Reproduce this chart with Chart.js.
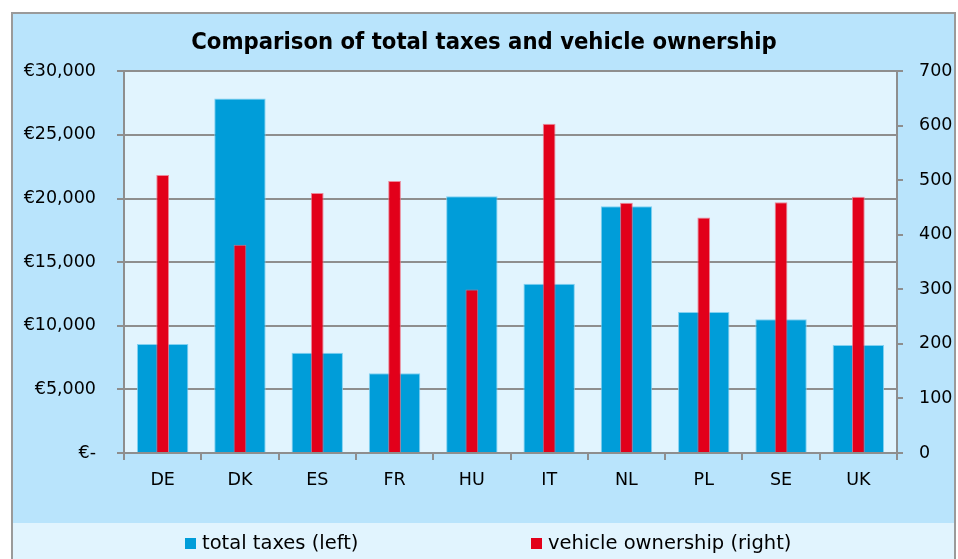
<!DOCTYPE html>
<html>
<head>
<meta charset="utf-8">
<script src="https://cdn.jsdelivr.net/npm/chart.js@4.4.1/dist/chart.umd.min.js"></script>
<style>
  html, body { margin: 0; padding: 0; background: #ffffff; }
  #wrap { position: relative; width: 958px; height: 559px; }
</style>
</head>
<body>
<div id="wrap"><canvas id="c" width="958" height="559"></canvas></div>
<script>
const categories = ['DE', 'DK', 'ES', 'FR', 'HU', 'IT', 'NL', 'PL', 'SE', 'UK'];
const totalTaxes = [8570, 27860, 7870, 6270, 20180, 13300, 19390, 11080, 10510, 8490];
const vehicleOwnership = [510, 382, 477, 499, 300, 604, 459, 432, 460, 470];
const seriesLabels = ['total taxes (left)', 'vehicle ownership (right)'];
const chartTitle = 'Comparison of total taxes and vehicle ownership';

const FONT = "'DejaVu Sans', sans-serif";
const TITLE_FONT = "'DejaVu Sans Condensed', 'DejaVu Sans', sans-serif";
const BLUE = '#009dd9';
const RED = '#e2001a';
const GRID = '#8e8e8e';
const OUTER = '#b9e4fc';
const INNER = '#e1f4fe';

const bgPlugin = {
  id: 'bg',
  beforeDraw(chart) {
    const ctx = chart.ctx;
    const a = chart.chartArea;
    ctx.save();
    ctx.fillStyle = '#ffffff';
    ctx.fillRect(0, 0, chart.width, chart.height);
    ctx.fillStyle = OUTER;
    ctx.fillRect(12, 13, 943, 560);
    ctx.fillStyle = INNER;
    ctx.fillRect(12, 523, 943, 60);
    ctx.strokeStyle = '#9a9a9a';
    ctx.lineWidth = 2;
    ctx.strokeRect(12, 13, 943, 580);
    ctx.fillStyle = INNER;
    ctx.fillRect(a.left, a.top, a.right - a.left, a.bottom - a.top);
    ctx.restore();
  },
  afterDraw(chart) {
    const ctx = chart.ctx;
    ctx.save();
    ctx.font = "19.5px " + FONT;
    ctx.textBaseline = 'middle';
    const items = [
      { x: 185, ds: chart.data.datasets[1] },
      { x: 531, ds: chart.data.datasets[0] }
    ];
    items.forEach(it => {
      ctx.fillStyle = it.ds.backgroundColor;
      ctx.fillRect(it.x, 538, 11, 11);
      ctx.fillStyle = '#000';
      ctx.fillText(it.ds.label, it.x + 17, 544);
    });
    ctx.restore();
  }
};

new Chart(document.getElementById('c'), {
  type: 'bar',
  data: {
    labels: categories,
    datasets: [
      {
        label: seriesLabels[1],
        data: vehicleOwnership,
        yAxisID: 'y1',
        backgroundColor: RED,
        borderColor: 'rgba(238,110,130,0.8)',
        borderWidth: 1,
        grouped: false,
        order: 1,
        categoryPercentage: 1,
        barPercentage: 0.165
      },
      {
        label: seriesLabels[0],
        data: totalTaxes,
        yAxisID: 'y',
        backgroundColor: BLUE,
        borderColor: 'rgba(120,205,240,0.9)',
        borderWidth: 1,
        grouped: false,
        order: 2,
        categoryPercentage: 1,
        barPercentage: 0.665
      }
    ]
  },
  options: {
    responsive: false,
    animation: false,
    devicePixelRatio: 1,
    layout: { padding: { left: 10, right: 0, top: 0, bottom: 0 } },
    plugins: {
      legend: { display: false },
      tooltip: { enabled: false },
      title: {
        display: true,
        text: chartTitle,
        color: '#000',
        font: { family: TITLE_FONT, size: 23.6, weight: 'bold', lineHeight: 1.2 },
        padding: { top: 29, bottom: 14 }
      }
    },
    scales: {
      x: {
        grid: { display: true, drawOnChartArea: false, drawTicks: true, tickLength: 7, color: GRID, lineWidth: 2, offset: true },
        border: { display: true, color: GRID, width: 2 },
        ticks: { color: '#000', font: { family: FONT, size: 17.5 }, padding: 10 },
        afterFit(s) { s.height = 106; }
      },
      y: {
        position: 'left',
        min: 0, max: 30000,
        ticks: {
          stepSize: 5000,
          color: '#000',
          font: { family: FONT, size: 17.5 },
          padding: 21,
          callback: v => v === 0 ? '€-' : '€' + v.toLocaleString('en-US')
        },
        grid: { color: GRID, lineWidth: 2, tickLength: 7 },
        border: { display: true, color: GRID, width: 2 },
        afterFit(s) { s.width = 114; }
      },
      y1: {
        position: 'right',
        min: 0, max: 700,
        ticks: { stepSize: 100, color: '#000', font: { family: FONT, size: 17.5 }, padding: 16 },
        grid: { drawOnChartArea: false, color: GRID, lineWidth: 2, tickLength: 6 },
        border: { display: true, color: GRID, width: 2 },
        afterFit(s) { s.width = 61; }
      }
    }
  },
  plugins: [bgPlugin]
});
</script>
</body>
</html>
